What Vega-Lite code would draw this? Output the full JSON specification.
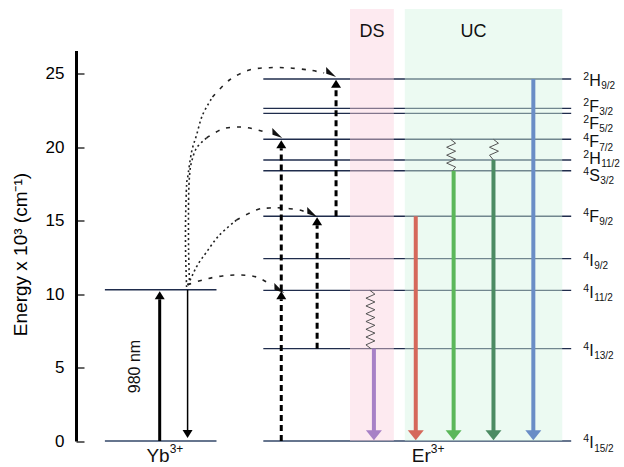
{
  "$schema": "https://vega.github.io/schema/vega-lite/v6.json",
  "width": 548,
  "height": 390.5,
  "autosize": {"type": "none"},
  "padding": {"left": 76, "top": 50.5, "right": 0, "bottom": 26},
  "config": {"view": {"stroke": null}, "font": "Liberation Sans"},
  "resolve": {"scale": {"color": "independent", "strokeWidth": "independent", "strokeDash": "independent"}},
  "datasets": {
    "levels": [
      {"ion": "Yb", "kind": "ground", "E": 0, "x1": 29, "x2": 141},
      {"ion": "Yb", "kind": "excited", "E": 10.3, "x1": 29, "x2": 141},
      {"ion": "Er", "kind": "ground", "E": 0, "x1": 188, "x2": 497},
      {"ion": "Er", "kind": "excited", "E": 6.29, "x1": 188, "x2": 497},
      {"ion": "Er", "kind": "excited", "E": 10.26, "x1": 188, "x2": 497},
      {"ion": "Er", "kind": "excited", "E": 12.42, "x1": 188, "x2": 497},
      {"ion": "Er", "kind": "excited", "E": 15.31, "x1": 188, "x2": 497},
      {"ion": "Er", "kind": "excited", "E": 18.41, "x1": 188, "x2": 497},
      {"ion": "Er", "kind": "excited", "E": 19.14, "x1": 188, "x2": 497},
      {"ion": "Er", "kind": "excited", "E": 20.55, "x1": 188, "x2": 497},
      {"ion": "Er", "kind": "excited", "E": 22.32, "x1": 188, "x2": 497},
      {"ion": "Er", "kind": "excited", "E": 22.66, "x1": 188, "x2": 497},
      {"ion": "Er", "kind": "excited", "E": 24.66, "x1": 188, "x2": 497}
    ],
    "boxes": [
      {"name": "DS", "x1": 275, "x2": 319, "E1": 0, "E2": 29.43},
      {"name": "UC", "x1": 330, "x2": 488, "E1": 0, "E2": 29.43}
    ],
    "waves": [
      {"w": "ds", "x": 295, "E": 10.26}, {"w": "ds", "x": 300, "E": 10.0}, {"w": "ds", "x": 291, "E": 9.73},
      {"w": "ds", "x": 300, "E": 9.47}, {"w": "ds", "x": 291, "E": 9.2}, {"w": "ds", "x": 300, "E": 8.94},
      {"w": "ds", "x": 291, "E": 8.67}, {"w": "ds", "x": 300, "E": 8.41}, {"w": "ds", "x": 291, "E": 8.14},
      {"w": "ds", "x": 300, "E": 7.88}, {"w": "ds", "x": 291, "E": 7.61}, {"w": "ds", "x": 300, "E": 7.35},
      {"w": "ds", "x": 291, "E": 7.08}, {"w": "ds", "x": 300, "E": 6.82}, {"w": "ds", "x": 291, "E": 6.55},
      {"w": "ds", "x": 296, "E": 6.29},
      {"w": "uc1", "x": 376, "E": 20.55}, {"w": "uc1", "x": 381, "E": 20.28}, {"w": "uc1", "x": 372, "E": 20.01},
      {"w": "uc1", "x": 381, "E": 19.74}, {"w": "uc1", "x": 372, "E": 19.47}, {"w": "uc1", "x": 381, "E": 19.2},
      {"w": "uc1", "x": 372, "E": 18.93}, {"w": "uc1", "x": 381, "E": 18.66}, {"w": "uc1", "x": 378, "E": 18.41},
      {"w": "uc2", "x": 419, "E": 20.55}, {"w": "uc2", "x": 424, "E": 20.28}, {"w": "uc2", "x": 415, "E": 20.01},
      {"w": "uc2", "x": 424, "E": 19.74}, {"w": "uc2", "x": 415, "E": 19.47}, {"w": "uc2", "x": 419, "E": 19.14}
    ],
    "curves": [
      {"c": "c1", "p": "dash", "x": 112, "E": 10.63}, {"c": "c1", "p": "dash", "x": 117, "E": 10.76},
      {"c": "c1", "p": "dash", "x": 131, "E": 11.04}, {"c": "c1", "p": "dash", "x": 147, "E": 11.24},
      {"c": "c1", "p": "dash", "x": 164, "E": 11.31}, {"c": "c1", "p": "dash", "x": 181, "E": 11.17},
      {"c": "c1", "p": "dash", "x": 197, "E": 10.6},
      {"c": "c2", "p": "dot", "x": 112, "E": 10.63}, {"c": "c2", "p": "dot", "x": 117, "E": 11.31},
      {"c": "c2", "p": "dot", "x": 122, "E": 11.99}, {"c": "c2", "p": "dot", "x": 131, "E": 12.87},
      {"c": "c2", "p": "dot", "x": 144, "E": 14.03}, {"c": "c2", "p": "dot", "x": 161, "E": 15.05},
      {"c": "c2", "p": "dash", "x": 161, "E": 15.05}, {"c": "c2", "p": "dash", "x": 181, "E": 15.74},
      {"c": "c2", "p": "dash", "x": 194, "E": 15.87}, {"c": "c2", "p": "dash", "x": 207, "E": 15.87},
      {"c": "c2", "p": "dash", "x": 224, "E": 15.74}, {"c": "c2", "p": "dash", "x": 231, "E": 15.57},
      {"c": "c3", "p": "dot", "x": 114, "E": 10.63}, {"c": "c3", "p": "dot", "x": 113, "E": 13.01},
      {"c": "c3", "p": "dot", "x": 113, "E": 16.42}, {"c": "c3", "p": "dot", "x": 114, "E": 18.12},
      {"c": "c3", "p": "dot", "x": 116, "E": 19.01}, {"c": "c3", "p": "dot", "x": 121, "E": 19.96},
      {"c": "c3", "p": "dot", "x": 131, "E": 20.64},
      {"c": "c3", "p": "dash", "x": 131, "E": 20.64}, {"c": "c3", "p": "dash", "x": 147, "E": 21.25},
      {"c": "c3", "p": "dash", "x": 164, "E": 21.39}, {"c": "c3", "p": "dash", "x": 179, "E": 21.25},
      {"c": "c3", "p": "dash", "x": 194, "E": 20.95},
      {"c": "c4", "p": "dot", "x": 111, "E": 10.49}, {"c": "c4", "p": "dot", "x": 110, "E": 12.87},
      {"c": "c4", "p": "dot", "x": 110, "E": 15.19}, {"c": "c4", "p": "dot", "x": 111, "E": 17.44},
      {"c": "c4", "p": "dot", "x": 112, "E": 17.92}, {"c": "c4", "p": "dot", "x": 116, "E": 19.69},
      {"c": "c4", "p": "dot", "x": 121, "E": 20.84}, {"c": "c4", "p": "dot", "x": 127, "E": 22.21},
      {"c": "c4", "p": "dot", "x": 137, "E": 23.43},
      {"c": "c4", "p": "dash", "x": 137, "E": 23.43}, {"c": "c4", "p": "dash", "x": 154, "E": 24.59},
      {"c": "c4", "p": "dash", "x": 174, "E": 25.27}, {"c": "c4", "p": "dash", "x": 194, "E": 25.43},
      {"c": "c4", "p": "dash", "x": 214, "E": 25.41}, {"c": "c4", "p": "dash", "x": 234, "E": 25.27},
      {"c": "c4", "p": "dash", "x": 249, "E": 25.07}
    ],
    "curveTips": [
      {"c": "c1", "x": 209, "E": 10.08},
      {"c": "c2", "x": 242, "E": 15.26},
      {"c": "c3", "x": 207, "E": 20.64},
      {"c": "c4", "x": 261, "E": 24.8}
    ],
    "ybUp": [{"x": 84, "from": 0, "to": 10.2}],
    "ybDown": [{"x": 112, "from": 10.3, "to": 0.2}],
    "erUp": [
      {"x": 206, "from": 0, "to": 10.2},
      {"x": 206, "from": 10.26, "to": 20.48},
      {"x": 242, "from": 6.29, "to": 15.24},
      {"x": 261, "from": 15.31, "to": 24.6}
    ],
    "emission": [
      {"name": "DS 1530", "x": 299, "top": 6.29},
      {"name": "red", "x": 341, "top": 15.31},
      {"name": "green", "x": 379, "top": 18.41},
      {"name": "green2", "x": 419, "top": 19.14},
      {"name": "blue", "x": 459, "top": 24.66}
    ],
    "stateLabels": [
      {"sup": "2", "main": "H", "sub": "9/2", "lE": 24.69},
      {"sup": "2", "main": "F", "sub": "3/2", "lE": 22.92},
      {"sup": "2", "main": "F", "sub": "5/2", "lE": 21.75},
      {"sup": "4", "main": "F", "sub": "7/2", "lE": 20.5},
      {"sup": "2", "main": "H", "sub": "11/2", "lE": 19.36},
      {"sup": "4", "main": "S", "sub": "3/2", "lE": 18.2},
      {"sup": "4", "main": "F", "sub": "9/2", "lE": 15.4},
      {"sup": "4", "main": "I", "sub": "9/2", "lE": 12.4},
      {"sup": "4", "main": "I", "sub": "11/2", "lE": 10.25},
      {"sup": "4", "main": "I", "sub": "13/2", "lE": 6.27},
      {"sup": "4", "main": "I", "sub": "15/2", "lE": -0.03}
    ],
    "regionLabels": [
      {"t": "DS", "x": 297, "E": 27.86},
      {"t": "UC", "x": 399, "E": 27.86}
    ],
    "ions": [
      {"main": "Yb", "sup": "3+", "x": 94, "E": -1.0},
      {"main": "Er", "sup": "3+", "x": 356, "E": -1.0}
    ],
    "pump": [{"t": "980 nm", "x": 59, "E": 5.07}]
  },
  "layer": [
    {
      "data": {"name": "levels"},
      "mark": {"type": "rule"},
      "encoding": {
        "x": {"field": "x1", "type": "quantitative", "scale": {"domain": [0, 548]}, "axis": null},
        "x2": {"field": "x2"},
        "y": {
          "field": "E", "type": "quantitative",
          "scale": {"domain": [0, 26.6], "nice": false},
          "axis": {
            "title": "Energy x 10³ (cm⁻¹)",
            "values": [0, 2.5, 5, 7.5, 10, 12.5, 15, 17.5, 20, 22.5, 25],
            "labelExpr": "datum.value % 5 === 0 ? datum.label : ''",
            "domain": true, "domainColor": "#000", "domainWidth": 3, "domainCap": "butt",
            "grid": false,
            "tickColor": "#000", "tickWidth": 1.2,
            "tickSize": {"condition": {"test": "datum.value % 5 === 0", "value": -8}, "value": -4},
            "labelPadding": 20,
            "labelFontSize": 17, "labelColor": "#000", "labelFont": "Liberation Sans",
            "titleFontSize": 19, "titleFont": "Liberation Sans", "titleFontWeight": "normal", "titleColor": "#000",
            "titleX": -56, "titleY": 203.5, "titleAngle": 270, "titleAlign": "center", "titleBaseline": "middle"
          }
        },
        "color": {"field": "kind", "type": "nominal", "scale": {"domain": ["ground", "excited"], "range": ["#66758e", "#1f2c4c"]}, "legend": null},
        "strokeWidth": {"field": "kind", "type": "nominal", "scale": {"domain": ["ground", "excited"], "range": [2, 1.4]}, "legend": null}
      }
    },
    {
      "data": {"name": "boxes"},
      "mark": {"type": "rect", "opacity": 0.45},
      "encoding": {
        "x": {"field": "x1", "type": "quantitative"},
        "x2": {"field": "x2"},
        "y": {"field": "E1", "type": "quantitative"},
        "y2": {"field": "E2"},
        "color": {"field": "name", "type": "nominal", "scale": {"domain": ["DS", "UC"], "range": ["#fbd1dd", "#d5f4e3"]}, "legend": null}
      }
    },
    {
      "data": {"name": "waves"},
      "mark": {"type": "line", "color": "#555", "strokeWidth": 1},
      "encoding": {
        "x": {"field": "x", "type": "quantitative"},
        "y": {"field": "E", "type": "quantitative"},
        "detail": {"field": "w"},
        "order": {"value": null}
      }
    },
    {
      "data": {"name": "curves"},
      "mark": {"type": "line", "color": "#222", "strokeWidth": 1.6, "interpolate": "cardinal"},
      "encoding": {
        "x": {"field": "x", "type": "quantitative"},
        "y": {"field": "E", "type": "quantitative"},
        "detail": [{"field": "c"}, {"field": "p"}],
        "strokeDash": {"field": "p", "type": "nominal", "scale": {"domain": ["dot", "dash"], "range": [[2, 3], [4, 7]]}, "legend": null},
        "order": {"value": null}
      }
    },
    {
      "data": {"name": "curveTips"},
      "mark": {"type": "point", "filled": true, "color": "#111", "opacity": 1, "size": 144, "angle": 25, "shape": "M0,0L-2.2,-0.8L-1.7,0.2Z"},
      "encoding": {
        "x": {"field": "x", "type": "quantitative"},
        "y": {"field": "E", "type": "quantitative"}
      }
    },
    {
      "data": {"name": "ybUp"},
      "mark": {"type": "rule", "color": "#000", "strokeWidth": 3, "y2Offset": 8},
      "encoding": {
        "x": {"field": "x", "type": "quantitative"},
        "y": {"field": "from", "type": "quantitative"},
        "y2": {"field": "to"}
      }
    },
    {
      "data": {"name": "ybUp"},
      "mark": {"type": "point", "filled": true, "color": "#000", "opacity": 1, "size": 100, "shape": "M-1,1.6L1,1.6L0,0Z"},
      "encoding": {
        "x": {"field": "x", "type": "quantitative"},
        "y": {"field": "to", "type": "quantitative"}
      }
    },
    {
      "data": {"name": "ybDown"},
      "mark": {"type": "rule", "color": "#000", "strokeWidth": 1.5, "y2Offset": -8},
      "encoding": {
        "x": {"field": "x", "type": "quantitative"},
        "y": {"field": "from", "type": "quantitative"},
        "y2": {"field": "to"}
      }
    },
    {
      "data": {"name": "ybDown"},
      "mark": {"type": "point", "filled": true, "color": "#000", "opacity": 1, "size": 100, "shape": "M-1,-1.6L1,-1.6L0,0Z"},
      "encoding": {
        "x": {"field": "x", "type": "quantitative"},
        "y": {"field": "to", "type": "quantitative"}
      }
    },
    {
      "data": {"name": "erUp"},
      "mark": {"type": "rule", "color": "#000", "strokeWidth": 3, "strokeDash": [6, 4], "y2Offset": 8},
      "encoding": {
        "x": {"field": "x", "type": "quantitative"},
        "y": {"field": "from", "type": "quantitative"},
        "y2": {"field": "to"}
      }
    },
    {
      "data": {"name": "erUp"},
      "mark": {"type": "point", "filled": true, "color": "#000", "opacity": 1, "size": 100, "shape": "M-1,1.6L1,1.6L0,0Z"},
      "encoding": {
        "x": {"field": "x", "type": "quantitative"},
        "y": {"field": "to", "type": "quantitative"}
      }
    },
    {
      "data": {"name": "emission"},
      "mark": {"type": "rule", "strokeWidth": 4, "y2Offset": -9},
      "encoding": {
        "x": {"field": "x", "type": "quantitative"},
        "y": {"field": "top", "type": "quantitative"},
        "y2": {"datum": 0.05},
        "color": {"field": "name", "type": "nominal", "scale": {"domain": ["DS 1530", "red", "green", "green2", "blue"], "range": ["#a781c6", "#d5685b", "#5bb75a", "#4c8b63", "#6a8dc6"]}, "legend": null}
      }
    },
    {
      "data": {"name": "emission"},
      "mark": {"type": "point", "filled": true, "opacity": 1, "size": 256, "shape": "M-1,-1.25L1,-1.25L0,0Z"},
      "encoding": {
        "x": {"field": "x", "type": "quantitative"},
        "y": {"datum": 0.05, "type": "quantitative"},
        "color": {"field": "name", "type": "nominal", "scale": {"domain": ["DS 1530", "red", "green", "green2", "blue"], "range": ["#a781c6", "#d5685b", "#5bb75a", "#4c8b63", "#6a8dc6"]}, "legend": null}
      }
    },
    {
      "data": {"name": "stateLabels"},
      "mark": {"type": "text", "align": "right", "baseline": "middle", "fontSize": 10.5, "dy": -2, "color": "#111"},
      "encoding": {
        "x": {"datum": 515, "type": "quantitative"},
        "y": {"field": "lE", "type": "quantitative"},
        "text": {"field": "sup"}
      }
    },
    {
      "data": {"name": "stateLabels"},
      "mark": {"type": "text", "align": "left", "baseline": "middle", "fontSize": 16, "dy": 2, "color": "#111"},
      "encoding": {
        "x": {"datum": 515, "type": "quantitative"},
        "y": {"field": "lE", "type": "quantitative"},
        "text": {"field": "main"}
      }
    },
    {
      "data": {"name": "stateLabels"},
      "mark": {"type": "text", "align": "left", "baseline": "middle", "fontSize": 10, "dy": 7.5, "color": "#111",
        "dx": {"expr": "datum.main === 'I' ? 5 : datum.main === 'H' ? 12 : datum.main === 'S' ? 11 : 10"}},
      "encoding": {
        "x": {"datum": 515, "type": "quantitative"},
        "y": {"field": "lE", "type": "quantitative"},
        "text": {"field": "sub"}
      }
    },
    {
      "data": {"name": "regionLabels"},
      "mark": {"type": "text", "align": "center", "baseline": "middle", "fontSize": 18, "color": "#111"},
      "encoding": {
        "x": {"field": "x", "type": "quantitative"},
        "y": {"field": "E", "type": "quantitative"},
        "text": {"field": "t"}
      }
    },
    {
      "data": {"name": "ions"},
      "mark": {"type": "text", "align": "right", "baseline": "middle", "fontSize": 19, "color": "#111"},
      "encoding": {
        "x": {"field": "x", "type": "quantitative"},
        "y": {"field": "E", "type": "quantitative"},
        "text": {"field": "main"}
      }
    },
    {
      "data": {"name": "ions"},
      "mark": {"type": "text", "align": "left", "baseline": "middle", "fontSize": 12, "dy": -7, "color": "#111"},
      "encoding": {
        "x": {"field": "x", "type": "quantitative"},
        "y": {"field": "E", "type": "quantitative"},
        "text": {"field": "sup"}
      }
    },
    {
      "data": {"name": "pump"},
      "mark": {"type": "text", "align": "center", "baseline": "middle", "fontSize": 16, "angle": 270, "color": "#111"},
      "encoding": {
        "x": {"field": "x", "type": "quantitative"},
        "y": {"field": "E", "type": "quantitative"},
        "text": {"field": "t"}
      }
    }
  ]
}
